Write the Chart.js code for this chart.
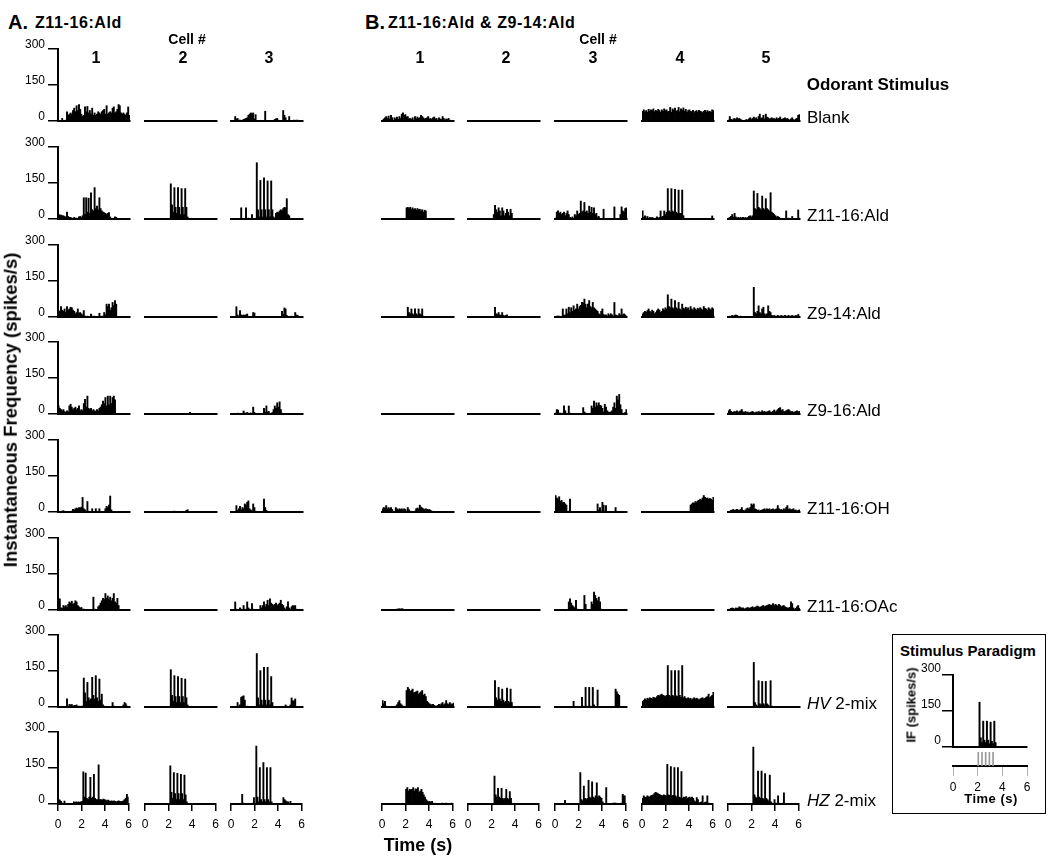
<!DOCTYPE html>
<html>
<head>
<meta charset="utf-8">
<script src="https://cdn.jsdelivr.net/npm/chart.js@4.4.1/dist/chart.umd.min.js"></script>
<style>
  body { margin: 0; background: #fff; }
  #fig { position: relative; width: 1050px; height: 858px; overflow: hidden; font-family: "Liberation Sans", Arial, sans-serif; color: #000; }
  .txt { position: absolute; white-space: nowrap; }
  #inset-box { position: absolute; left: 892px; top: 634px; width: 152px; height: 178px; border: 1px solid #000; }
</style>
</head>
<body>
<div id="fig"><div id="inset-box"></div></div>
<script>
// Histogram bins are 0.1 s wide, 60 bins = 0..6 s, values in spikes/s
const BIN_WIDTH = 0.1;
const X_TICK_LABELS = [0, 2, 4, 6];
const Y_TICK_LABELS = [0, 150, 300];
const A_CELLS = ['1', '2', '3'];
const B_CELLS = ['1', '2', '3', '4', '5'];
const STIMULI = ['Blank', 'Z11-16:Ald', 'Z9-14:Ald', 'Z9-16:Ald', 'Z11-16:OH', 'Z11-16:OAc', '<i>HV</i> 2-mix', '<i>HZ</i> 2-mix'];

// A. Z11-16:Ald cells (3 per row)
const A_BLANK = [
  [0,0,0,12,0,0,5,40,25,30, 35,30,45,55,40,65,45,70,50,30, 20,25,60,40,62,35,45,30,55,25, 35,25,30,40,35,30,40,45,50,30, 65,30,35,40,35,55,60,35,40,50, 70,65,35,30,35,30,25,35,60,25],
  [],
  [0,0,0,20,10,12,5,5,0,5, 8,10,12,15,25,30,35,32,35,10, 28,0,0,0,0,0,0,0,42,0, 0,0,0,0,0,0,8,10,12,5, 0,0,0,45,25,15,0,0,20,0, 0,0,5,0,5,5]
];
const A_Z1116ALD = [
  [20,18,18,15,15,12,10,30,12,8, 8,5,3,8,5,5,3,10,12,8, 15,90,20,90,30,88,25,110,40,35, 132,45,55,40,90,45,35,30,28,25, 20,25,28,10,0,0,5,10,8],
  [0,0,0,0,0,0,0,0,0,0, 0,0,0,0,0,0,0,0,0,0, 0,148,60,30,132,50,25,132,50,20, 128,50,20,128,50,10],
  [0,0,0,0,0,0,0,0,48,0, 0,0,48,0,5,0,0,20,0,0, 0,236,40,10,162,40,10,173,40,10, 160,40,10,160,40,10,0,25,30,28, 35,40,35,45,50,48,86,20,15]
];
const A_Z914ALD = [
  [28,25,45,30,25,35,20,45,30,35, 42,40,30,25,15,20,35,18,20,15, 10,28,5,3,5,3,0,14,5,3, 5,3,0,0,17,5,3,5,20,10, 55,45,55,30,40,62,50,70,55],
  [],
  [0,0,0,0,44,10,5,28,10,8, 10,8,10,14,0,0,0,0,20,18, 0,0,0,0,0,0,0,0,0,0, 0,0,0,0,0,0,0,0,0,0, 0,0,25,12,39,35,8,0,0,0, 5,0,0,20,10,8]
];
const A_Z916ALD = [
  [35,25,20,15,20,12,8,15,10,35, 42,30,20,25,30,20,25,35,15,20, 15,45,62,30,76,25,20,25,15,20, 15,12,20,15,25,30,40,55,45,70, 35,76,40,76,45,70,76,60],
  [0,0,0,0,0,0,0,0,0,0, 0,0,0,0,0,0,0,0,0,0, 0,0,0,0,0,0,0,0,0,0, 0,0,0,0,0,0,0,8],
  [0,0,0,4,0,5,0,4,0,0, 14,6,0,8,5,0,6,0,30,8, 0,0,0,0,0,0,0,25,10,35, 10,12,0,0,8,20,35,25,48,30, 52,20,5]
];
const A_Z1116OH = [
  [0,0,0,5,7,3,0,3,0,3, 0,5,12,10,15,18,15,20,18,22, 62,15,10,5,45,5,0,0,15,0, 0,15,0,0,15,3,0,0,0,15, 25,20,30,68,10],
  [0,0,0,0,0,0,0,0,0,0, 0,0,0,0,0,0,0,0,0,0, 0,0,0,0,5,0,0,0,0,0, 0,0,3,0,8,11],
  [0,0,0,0,28,8,15,25,10,20, 15,35,30,42,48,15,10,5,35,20, 5,0,0,0,0,0,0,55,20,8, 0,3,0,0,0,0,0,0,0,3]
];
const A_Z1116OAC = [
  [10,48,10,8,20,15,20,12,25,35, 30,38,25,30,40,35,20,15,10,12, 5,5,3,0,3,0,3,0,0,55, 5,3,0,15,20,30,40,50,45,70, 50,60,45,55,40,50,70,35,30,50, 20],
  [],
  [0,0,0,35,5,3,0,10,5,0, 20,5,0,35,10,5,0,28,5,0, 0,3,0,0,20,10,20,35,15,25, 42,20,48,30,25,20,25,30,20,25, 30,42,25,20,10,5,15,35,10,5, 15,20,18,20,5]
];
const A_HV = [
  [0,0,0,0,0,0,0,35,5,12, 10,12,5,8,8,10,3,5,0,5, 5,122,60,25,104,40,30,35,125,50, 35,132,40,25,118,30,55,10,5,3, 0,0,0,0,0,20,5,0,0,0, 0,0,0,0,10,20,15,5],
  [0,0,0,0,0,0,0,0,0,0, 0,0,0,0,0,0,0,0,0,0, 0,157,50,25,132,45,20,128,45,20, 121,45,20,118,40,10],
  [0,0,0,0,0,20,0,10,42,45, 48,30,0,5,0,0,0,0,0,0, 0,224,40,10,153,30,10,167,30,10, 167,30,10,128,20,0,0,0,0,0, 0,0,0,0,0,10,5,0,0,10, 39,28,25,35]
];
const A_HZ = [
  [20,18,12,5,3,14,3,3,2,0, 3,0,3,10,8,10,8,10,8,10, 12,135,30,130,25,20,30,112,25,30, 125,25,20,20,165,20,20,18,22,20, 18,15,18,15,12,15,12,15,12,10, 12,15,12,10,12,15,20,25,42,30],
  [0,0,0,0,0,0,0,0,0,0, 0,0,0,0,0,0,0,0,0,0, 0,160,50,25,132,45,20,129,45,20, 125,45,20,122,40,10],
  [0,0,0,0,0,0,0,0,0,42, 5,0,0,0,0,0,0,0,5,28, 0,243,30,10,153,20,10,174,20,10, 153,20,10,153,10,0,0,0,0,0, 0,0,0,0,28,20,15,10,10,0, 12]
];

// B. Z11-16:Ald & Z9-14:Ald cells (5 per row)
const B_BLANK = [
  [5,10,15,20,12,22,10,25,15,5, 15,10,18,8,20,12,30,35,25,28, 18,20,10,12,8,15,5,20,10,18, 12,15,25,20,15,10,12,15,20,10, 12,8,15,18,10,12,5,15,10,8, 20,12,5,10,8,12,5],
  [],
  [],
  [42,48,40,45,38,50,42,48,45,52, 40,46,42,50,45,38,48,42,52,45, 48,40,42,58,38,52,46,55,42,45, 58,40,52,46,56,42,50,38,45,48, 42,40,46,36,42,45,38,46,42,40, 36,42,46,38,45,40,42,38,48,45],
  [5,20,8,5,10,12,8,15,10,12, 8,5,3,2,5,8,3,10,15,8, 12,18,10,15,8,20,30,12,15,25, 10,30,18,15,10,12,15,10,12,8, 15,10,12,18,8,10,12,15,10,12, 8,5,10,15,8,5,10,12,25,28]
];
const B_Z1116ALD = [
  [0,0,0,0,0,0,0,0,0,0, 0,0,0,0,0,0,0,0,0,0, 48,50,45,50,42,48,40,45,38,45, 40,42,35,40,30,38,35],
  [0,0,0,0,0,0,0,0,0,0, 0,0,0,0,0,0,0,0,0,0, 0,20,58,40,30,48,35,15,48,35, 15,25,42,30,15,42,25],
  [5,30,35,25,30,20,25,30,15,25, 35,20,8,5,10,5,20,15,35,20, 25,76,30,35,70,30,35,25,55,30, 50,25,48,20,25,10,12,3,0,3, 42,3,0,0,0,0,0,0,0,52, 3,0,0,0,20,52,35,30,45,48],
  [35,8,15,5,12,5,8,5,8,5, 3,5,10,5,8,35,10,12,35,20, 30,128,35,30,128,35,30,125,30,25, 122,25,25,122,15,3,0,0,0,0, 0,0,0,0,0,0,0,0,0,0, 0,0,0,0,0,0,0,0,14],
  [5,8,12,20,10,25,10,5,8,5, 8,5,8,5,8,5,8,12,15,10, 15,118,45,40,108,50,45,40,97,45, 40,86,45,40,35,111,30,25,20,15, 10,12,8,5,0,0,0,0,35,3, 5,0,0,12,3,0,0,0,39,5]
];
const B_Z914ALD = [
  [0,0,0,0,0,0,0,0,0,0, 0,0,0,0,0,0,0,0,0,0, 0,42,20,15,35,15,10,35,15,10, 35,15,10,35,5,0,0,0,0,0, 0,0,0,0,3,0,0,0,0,0, 0,3],
  [0,0,0,0,0,0,0,0,0,0, 0,0,0,0,0,0,0,0,0,0, 0,0,42,15,12,20,10,8,20,8, 5,8,10,3,3],
  [3,5,5,5,3,3,35,8,10,35, 15,42,20,40,25,48,30,35,55,35, 45,50,62,60,76,55,40,55,70,45, 40,62,40,35,30,25,15,10,25,35, 12,8,10,5,15,8,15,10,5,62, 10,8,5,15,10,35,10,15,10,5],
  [15,20,25,20,28,35,25,20,30,25, 15,20,28,35,30,20,25,35,30,40, 35,94,45,40,76,40,35,70,40,35, 62,35,30,55,38,35,42,35,40,30, 45,35,30,40,35,30,38,32,40,35, 30,45,38,35,30,40,35,30,40,35],
  [3,5,3,8,5,8,10,8,5,3, 5,3,0,3,0,3,0,3,0,3, 0,125,20,15,25,48,20,15,35,42, 15,10,15,48,25,20,8,5,8,5, 5,8,5,5,8,5,5,8,5,5, 8,5,5,8,5,5,8,5,12,5]
];
const B_Z916ALD = [
  [],
  [],
  [5,20,18,5,5,3,5,35,15,5, 3,35,5,3,0,3,0,3,0,3, 0,3,0,28,10,5,0,3,0,0, 35,25,55,30,48,35,48,38,35,25, 10,42,30,15,10,8,10,15,30,48, 25,76,60,83,40,20,5,3,8,20],
  [],
  [15,20,12,8,10,12,10,15,8,12, 15,20,10,8,12,8,10,5,8,10, 12,8,5,10,8,12,10,8,15,10, 12,8,10,12,15,10,8,12,18,10, 15,20,25,28,15,20,12,10,15,18, 20,15,10,12,8,10,12,15,10,12]
];
const B_Z1116OH = [
  [15,20,18,28,15,20,15,20,12,5, 3,20,15,10,15,12,15,10,15,12, 5,20,10,5,3,2,3,5,15,18, 15,30,22,18,15,12,15,12,10,12, 8,5],
  [],
  [70,60,55,65,45,50,40,42,35,30, 3,5,55,0,0,0,0,0,0,0, 0,0,0,0,0,0,0,0,0,0, 0,0,0,0,0,35,10,20,5,42, 30,5,28,3,3,2,0,0,0,0, 20],
  [0,0,0,0,0,0,0,0,0,0, 0,0,0,0,0,0,0,0,0,0, 0,0,0,0,0,0,0,0,0,0, 0,0,0,0,0,0,0,0,0,0, 30,35,40,38,45,42,48,50,55,52, 60,70,62,58,60,55,58,55,50,62],
  [3,5,8,10,12,8,10,12,10,8, 12,20,8,5,10,15,18,12,20,35, 30,35,15,12,8,10,5,8,10,12, 15,10,15,12,15,10,12,15,10,12, 15,28,15,10,12,8,15,10,20,28, 12,15,10,12,15,8,10,5,8,10]
];
const B_Z1116OAC = [
  [0,0,0,0,0,0,0,0,0,0, 0,3,5,5,7,5,7,5,3,0, 0,0,0,0,0,0,0,0,3,0, 0,0,0,3],
  [],
  [0,0,0,0,0,0,0,0,0,0, 0,35,48,30,20,15,10,42,5,0, 0,0,3,0,62,25,3,0,3,0, 35,25,76,62,50,40,55,35,5],
  [],
  [3,5,8,10,8,5,10,8,10,15, 12,8,10,5,8,10,12,8,10,12, 15,10,12,15,18,15,12,15,18,20, 15,18,20,22,25,20,22,28,20,25, 22,18,25,20,15,18,20,15,12,10, 10,12,35,28,10,5,8,15,20,8]
];
const B_HV = [
  [28,15,25,5,3,0,3,0,3,3, 3,5,10,20,28,15,10,3,5,3, 70,83,76,65,70,76,60,62,65,68, 55,60,65,70,50,55,45,25,20,15, 12,10,12,8,5,5,8,12,10,15, 20,10,15,28,15,12,20,15,12,18],
  [0,0,0,0,0,0,0,0,0,0, 0,0,0,0,0,0,0,0,0,0, 0,0,111,40,30,83,35,25,76,30, 20,25,80,25,20,76,20],
  [0,0,0,0,0,0,0,0,0,0, 0,0,0,0,0,25,0,0,0,0, 0,3,42,5,0,83,5,0,83,5, 0,83,10,0,0,72,3,0,0,0, 0,0,0,0,0,0,0,0,0,0, 76,65,55,50],
  [25,30,35,30,38,35,40,38,35,42, 40,38,45,50,48,52,55,50,48,45, 50,174,50,45,153,50,45,153,48,45, 153,50,42,174,40,45,38,35,40,35, 38,32,35,40,35,38,35,30,35,38, 40,35,38,42,45,55,40,45,50,62],
  [0,0,0,0,0,0,0,0,0,0, 0,0,0,0,0,0,0,0,0,0, 0,187,20,10,5,111,15,10,108,15, 10,108,15,10,5,111,5]
];
const B_HZ = [
  [0,0,0,0,0,0,0,0,0,0, 0,0,0,0,0,0,0,0,0,0, 62,70,55,62,60,62,70,55,65,62, 70,50,55,62,50,40,30,20,15,10, 12,8,12,5,0,0,0,0,0,0, 0,5,3,0,5,0,3,0,3,5],
  [0,0,0,0,0,0,0,0,0,0, 0,0,0,0,0,0,0,0,0,0, 0,0,118,40,30,67,30,25,67,25, 20,25,62,25,20,53,25],
  [0,0,0,0,0,0,0,0,17,0, 0,0,0,0,0,3,0,3,0,3, 0,132,20,15,76,25,20,25,100,30, 25,94,30,25,35,90,30,35,30,25, 10,3,0,70,3,0,0,0,0,5, 5,5,0,0,0,0,5,42,35,35],
  [25,35,30,28,35,32,30,35,38,40, 45,50,48,45,42,40,38,35,40,38, 35,167,40,38,157,35,38,153,35,30, 153,30,28,136,25,30,28,32,25,28, 30,25,30,25,15,10,28,20,5,8, 10,35,5,8,10,35,5],
  [0,0,0,0,0,0,0,0,0,0, 0,0,0,0,0,0,0,0,0,0, 0,239,40,30,25,139,30,25,139,25, 20,128,25,20,15,122,10,5,3,20, 5,3,35,5,3,2,5,48,3]
];

// Inset: stimulus paradigm
const PARADIGM_IF = [0,0,0,0,0,0,0,0,0,0, 0,0,0,0,0,0,0,0,0,0, 0,188,40,20,109,30,20,109,30,15, 105,25,15,109,20];
const PULSE_TIMES = [2.05, 2.35, 2.65, 2.95, 3.25];

const A_ROWS = [A_BLANK, A_Z1116ALD, A_Z914ALD, A_Z916ALD, A_Z1116OH, A_Z1116OAC, A_HV, A_HZ];
const B_ROWS = [B_BLANK, B_Z1116ALD, B_Z914ALD, B_Z916ALD, B_Z1116OH, B_Z1116OAC, B_HV, B_HZ];

// Layout
const FONT = '"Liberation Sans", Arial, sans-serif';
const fig = document.getElementById('fig');
const ROW_BASE = [121, 219, 317, 414, 512, 610, 707, 804];
const A_LEFT = [58, 145, 231];
const B_LEFT = [382, 468, 555, 642, 728];
const PW = 72, PH = 72;
const PAD_L = 45, PAD_T = 14, PAD_R = 8, AXIS_H = 34;

function addText(html, x, y, o = {}) {
    const d = document.createElement('div');
    const size = o.size || 12;
    d.className = 'txt';
    d.innerHTML = html;
    d.style.fontSize = size + 'px';
    d.style.lineHeight = size + 'px';
    d.style.fontWeight = o.bold ? 'bold' : 'normal';
    if (o.spacing) d.style.letterSpacing = o.spacing + 'px';
    d.style.left = x + 'px';
    if (o.rotate) {
        d.style.top = y + 'px';
        d.style.transform = 'translate(-50%, -50%) rotate(-90deg)';
    } else {
        d.style.top = (y - size / 2) + 'px';
        if (o.align === 'center') d.style.transform = 'translateX(-50%)';
    }
    fig.appendChild(d);
}

// One histogram panel = one small Chart.js bar chart on a linear time axis
function histPanel(left, base, values, o = {}) {
    const w = o.width || PW;
    const cv = document.createElement('canvas');
    cv.width = PAD_L + w + PAD_R;
    cv.height = PAD_T + PH + AXIS_H;
    cv.style.position = 'absolute';
    cv.style.left = (left - PAD_L) + 'px';
    cv.style.top = (base - PH - PAD_T) + 'px';
    fig.appendChild(cv);

    const tickFont = { family: FONT, size: 12 };
    new Chart(cv, {
        type: 'bar',
        data: {
            datasets: [{
                data: values.map((v, i) => ({ x: (i + 0.5) * BIN_WIDTH, y: v })),
                backgroundColor: '#000',
                borderWidth: 0,
                barPercentage: 1.6,
                categoryPercentage: 1
            }]
        },
        options: {
            responsive: false,
            animation: false,
            events: [],
            layout: { padding: { top: PAD_T, right: PAD_R, left: 0, bottom: 0 } },
            plugins: { legend: { display: false }, tooltip: { enabled: false } },
            scales: {
                x: {
                    type: 'linear',
                    min: 0,
                    max: 6,
                    offset: false,
                    afterFit: s => { s.height = AXIS_H; },
                    afterBuildTicks: s => { s.ticks = X_TICK_LABELS.map(v => ({ value: v })); },
                    border: { display: true, color: '#000', width: 2 },
                    grid: { display: !!o.xTicks, offset: false, drawOnChartArea: false, tickLength: 7, color: '#000', lineWidth: 1.5 },
                    ticks: { display: !!o.xTicks, padding: 6, color: '#000', font: tickFont, maxRotation: 0, autoSkip: false }
                },
                y: {
                    min: 0,
                    max: 300,
                    afterFit: s => { s.width = PAD_L; },
                    afterBuildTicks: s => { s.ticks = Y_TICK_LABELS.map(v => ({ value: v })); },
                    border: { display: !!o.yAxis, color: '#000', width: 2 },
                    grid: { display: !!o.yAxis, drawOnChartArea: false, tickLength: o.yTickLen || 10, color: '#000', lineWidth: 1.5 },
                    ticks: { display: !!o.yAxis, padding: o.yPad == null ? 3 : o.yPad, labelOffset: o.yOffset || -4, color: '#000', font: tickFont }
                }
            }
        }
    });
}

// Stimulus pulse marks under the inset
function pulsePanel(left, top, w, h) {
    const cv = document.createElement('canvas');
    cv.width = PAD_L + w + PAD_R;
    cv.height = PAD_T + h + AXIS_H;
    cv.style.position = 'absolute';
    cv.style.left = (left - PAD_L) + 'px';
    cv.style.top = (top - PAD_T) + 'px';
    fig.appendChild(cv);
    new Chart(cv, {
        type: 'bar',
        data: { datasets: [{ data: PULSE_TIMES.map(t => ({ x: t, y: 1 })), backgroundColor: '#9a9a9a', barThickness: 1 }] },
        options: {
            responsive: false,
            animation: false,
            events: [],
            layout: { padding: { top: PAD_T, right: PAD_R, left: 0, bottom: 0 } },
            plugins: { legend: { display: false }, tooltip: { enabled: false } },
            scales: {
                x: {
                    type: 'linear', min: 0, max: 6, offset: false,
                    afterFit: s => { s.height = AXIS_H; },
                    afterBuildTicks: s => { s.ticks = X_TICK_LABELS.map(v => ({ value: v })); },
                    border: { display: true, color: '#000', width: 2 },
                    grid: { offset: false, drawOnChartArea: false, tickLength: 10, color: '#b0b0b0', lineWidth: 1 },
                    ticks: { padding: 4, color: '#000', font: { family: FONT, size: 12 }, maxRotation: 0, autoSkip: false }
                },
                y: {
                    min: 0, max: 1,
                    afterFit: s => { s.width = PAD_L; },
                    border: { display: false }, grid: { display: false }, ticks: { display: false }
                }
            }
        }
    });
}

// Panels
ROW_BASE.forEach((base, r) => {
    const last = r === ROW_BASE.length - 1;
    A_LEFT.forEach((left, c) => {
        histPanel(left, base, A_ROWS[r][c], { yAxis: c === 0, xTicks: last });
    });
    B_LEFT.forEach((left, c) => {
        histPanel(left, base, B_ROWS[r][c], { xTicks: last });
    });
    addText(STIMULI[r], 807, base - 4, { size: 17 });
});

// Headers
addText('A.', 8, 22, { size: 20, bold: true });
addText('Z11-16:Ald', 35, 23, { size: 16, bold: true, spacing: 0.6 });
addText('B.', 365, 22, { size: 20, bold: true });
addText('Z11-16:Ald &amp; Z9-14:Ald', 388, 23, { size: 16, bold: true, spacing: 0.6 });
addText('Cell #', 187, 39, { size: 14, bold: true, align: 'center' });
addText('Cell #', 598, 39, { size: 14, bold: true, align: 'center' });
A_CELLS.forEach((t, c) => addText(t, A_LEFT[c] + PW / 2 + 2, 58, { size: 16, bold: true, align: 'center' }));
B_CELLS.forEach((t, c) => addText(t, B_LEFT[c] + PW / 2 + 2, 58, { size: 16, bold: true, align: 'center' }));
addText('Odorant Stimulus', 878, 84, { size: 17, bold: true, align: 'center' });
addText('Instantaneous Frequency (spikes/s)', 11, 410, { size: 18.5, bold: true, rotate: true });
addText('Time (s)', 418, 845, { size: 18, bold: true, align: 'center' });

// Inset
histPanel(953, 747, PARADIGM_IF, { width: 74, yAxis: true, yTickLen: 11, yPad: 1, yOffset: -6 });
pulsePanel(953, 752, 74, 14);
addText('Stimulus Paradigm', 968, 650, { size: 15, bold: true, align: 'center' });
addText('IF (spikes/s)', 911, 705, { size: 13, bold: true, rotate: true });
addText('Time (s)', 991, 798, { size: 13, bold: true, align: 'center', spacing: 0.5 });
</script>
</body>
</html>
